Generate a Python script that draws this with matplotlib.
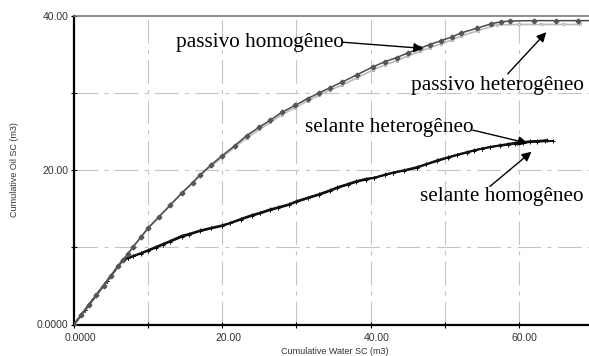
import matplotlib
matplotlib.use("Agg")
import matplotlib.pyplot as plt
from matplotlib.transforms import ScaledTranslation
import numpy as np

# ---- data ----
water_passivo_hom = [0, 1, 2, 3, 4, 5, 6, 6.6, 7.3, 8, 9, 10, 11.5, 13, 14.5, 16, 17, 18.5, 20,
                     21.7, 23.3, 25, 26.5, 28, 29.8, 31.5, 33, 34.5, 36.1, 38.2, 40.3, 42,
                     43.5, 45, 46.6, 48, 49.5, 51, 52.2, 54.3, 56.3, 57.6, 58.8, 62, 65, 68, 70]
oil_passivo_hom = [0, 1.25, 2.5, 3.8, 5.05, 6.3, 7.6, 8.35, 9.2, 10.1, 11.3, 12.5, 14.0, 15.5,
                   17.0, 18.4, 19.4, 20.7, 21.9, 23.2, 24.5, 25.6, 26.5, 27.5, 28.4, 29.3, 30.0,
                   30.7, 31.4, 32.4, 33.4, 34.1, 34.6, 35.2, 35.8, 36.3, 36.8, 37.3, 37.8, 38.4,
                   39.0, 39.25, 39.35, 39.4, 39.4, 39.4, 39.4]

water_passivo_het = [0, 1, 2, 3, 4, 5, 6, 6.6, 7.3, 8, 9, 10, 11.5, 13, 14.5, 16, 17, 18.5, 20,
                     21.7, 23.3, 25, 26.5, 28, 29.8, 31.5, 33, 34.5, 36.1, 38.2, 40.3, 42,
                     43.5, 45, 46.6, 48, 49.5, 51, 52.2, 54.5, 57, 60, 63, 66, 68.2]
oil_passivo_het = [0, 1.25, 2.5, 3.8, 5.05, 6.3, 7.6, 8.35, 9.2, 10.1, 11.3, 12.5, 14.0, 15.5,
                   17.0, 18.3, 19.3, 20.5, 21.7, 23.0, 24.2, 25.3, 26.2, 27.2, 28.1, 29.0, 29.7,
                   30.4, 31.0, 32.0, 33.0, 33.7, 34.2, 34.8, 35.4, 35.9, 36.4, 36.9, 37.4, 38.1,
                   38.85, 38.9, 38.9, 38.9, 38.9]

water_selante_hom = [0, 1.5, 3, 4.5, 6, 6.6, 7.3, 8, 9, 10, 11, 12, 13, 14.5, 15.5, 17, 18.5,
                     19.9, 21, 22.5, 24, 25.1, 26.5, 27.5, 29, 30, 31.5, 33, 34.5, 35.5, 37,
                     38.1, 39.4, 40.5, 42, 43, 44.5, 46.2, 47.5, 49, 50.5, 51.6, 53, 54, 55,
                     56.1, 57.5, 58.5, 59.5, 60.5, 61.5, 62.5, 63.5, 64.6]
oil_selante_hom = [0, 1.9, 3.8, 5.7, 7.6, 8.35, 8.65, 8.9, 9.25, 9.65, 10.05, 10.45, 10.85,
                   11.5, 11.75, 12.2, 12.55, 12.85, 13.15, 13.7, 14.2, 14.5, 14.95, 15.2, 15.6,
                   16.0, 16.45, 16.9, 17.4, 17.8, 18.25, 18.6, 18.9, 19.05, 19.45, 19.7, 20.0,
                   20.4, 20.8, 21.3, 21.7, 22.0, 22.35, 22.6, 22.8, 23.0, 23.2, 23.3, 23.45,
                   23.55, 23.65, 23.7, 23.75, 23.8]

water_selante_het = [0, 1.5, 3, 4.5, 6, 6.6, 7.3, 8, 9, 10, 11, 12, 13, 14.5, 15.5, 17, 18.5,
                     19.9, 21, 22.5, 24, 25.1, 26.5, 27.5, 29, 30, 31.5, 33, 34.5, 35.5, 37,
                     38.1, 39.4, 40.5, 42, 43, 44.5, 46.2, 47.5, 49, 50.5, 51.6, 53, 54, 55,
                     56.1, 57.5, 58.5, 59.5, 60.5, 61.5, 62.5, 63.8]
oil_selante_het = [0, 1.9, 3.8, 5.7, 7.6, 8.35, 8.6, 8.85, 9.2, 9.55, 9.95, 10.35, 10.75,
                   11.35, 11.65, 12.1, 12.45, 12.75, 13.1, 13.6, 14.1, 14.4, 14.85, 15.1, 15.5,
                   15.9, 16.35, 16.8, 17.3, 17.7, 18.15, 18.5, 18.8, 19.0, 19.4, 19.65, 19.95,
                   20.3, 20.75, 21.2, 21.65, 21.95, 22.3, 22.55, 22.8, 23.0, 23.25, 23.4, 23.55,
                   23.65, 23.75, 23.8, 23.9]

x_ticks = [0, 20, 40, 60]
x_tick_labels = ["0.0000", "20.00", "40.00", "60.00"]
y_ticks = [0, 20, 40]
y_tick_labels = ["0.0000", "20.00", "40.00"]

labels = ["passivo homogêneo", "passivo heterogêneo", "selante heterogêneo", "selante homogêneo"]

plt.rcParams['lines.scale_dashes'] = False

fig = plt.figure(figsize=(5.89, 3.56), dpi=100)
ax = fig.add_axes([74/589, (356-324.5)/356, 519/589, 308.5/356])
ax.set_xlim(0, 70)
ax.set_ylim(0, 40)

# grid
grid_style = dict(color="#c4c4c4", lw=0.8, linestyle=(0, (17, 4.5, 3, 4.5)), zorder=0)
for gx in range(10, 70, 10):
    ax.axvline(gx, **grid_style)
for gy in range(10, 40, 10):
    ax.axhline(gy, **grid_style)

# curves
ax.plot(water_selante_het, oil_selante_het, color="black", lw=1.4, marker="+", ms=3.5,
        mew=0.7, zorder=2)
ax.plot(water_selante_hom, oil_selante_hom, color="#111111", lw=1.4, marker="+", ms=3.5,
        mew=0.7, zorder=2)
ax.plot(water_passivo_het, oil_passivo_het, color="#bdbdbd", lw=1.3, marker="s", ms=2,
        mfc="white", mec="#a8a8a8", mew=0.6, zorder=3)
ax.plot(water_passivo_hom, oil_passivo_hom, color="#4a4a4a", lw=1.1, marker="D", ms=2.4,
        mfc="#555555", mec="#555555", zorder=4)

# spines
for s in ["left", "bottom"]:
    ax.spines[s].set_linewidth(1.6)
    ax.spines[s].set_color("black")
ax.spines["top"].set_linewidth(1.2)
ax.spines["top"].set_color("#7a7a7a")
ax.spines["right"].set_visible(False)

ax.set_xticks(range(0, 70, 10))
ax.set_xticklabels([x_tick_labels[x_ticks.index(v)] if v in x_ticks else "" for v in range(0, 70, 10)])
ax.set_yticks(range(0, 50, 10))
ax.set_yticklabels([y_tick_labels[y_ticks.index(v)] if v in y_ticks else "" for v in range(0, 50, 10)])
ax.tick_params(axis="both", direction="inout", length=4, width=0.8, color="black",
               labelsize=7.5, labelcolor="#333333", pad=2)
ax.tick_params(axis="x", pad=4)
for lab in ax.get_xticklabels():
    lab.set_fontfamily("Liberation Sans")
    lab.set_transform(lab.get_transform() + ScaledTranslation(6/100, 0, fig.dpi_scale_trans))
for lab in ax.get_yticklabels():
    lab.set_fontfamily("Liberation Sans")

fig.text(335/589, 1-351/356, "Cumulative Water SC (m3)", ha="center", va="center",
         fontsize=6.5, family="Liberation Sans", color="#333333")
fig.text(15/589, 1-170/356, "Cumulative Oil SC (m3)", ha="center", va="center",
         rotation=90, fontsize=6.5, family="Liberation Sans", color="#333333")

# annotations
tfont = dict(family="Liberation Serif", fontsize=15.3, color="black", va="center", ha="left")
ax.text(13.75, 36.6, labels[0], **tfont, zorder=6)
ax.text(45.5, 31.0, labels[1], **tfont, zorder=6)
ax.text(31.1, 25.6, labels[2], **tfont, zorder=6)
ax.text(46.6, 16.6, labels[3], **tfont, zorder=6)

arrows = [((36.25, 36.6), (47.1, 35.8)),
          ((58.5, 32.5), (63.7, 37.9)),
          ((53.8, 25.2), (61.2, 23.5)),
          ((56.1, 17.9), (61.7, 22.4))]
for start, tip in arrows:
    ax.annotate("", xy=tip, xytext=start,
                arrowprops=dict(arrowstyle="-|>", color="black", lw=1.0,
                                mutation_scale=14, shrinkA=0, shrinkB=0),
                zorder=7)

fig.savefig("out.png", dpi=100)
